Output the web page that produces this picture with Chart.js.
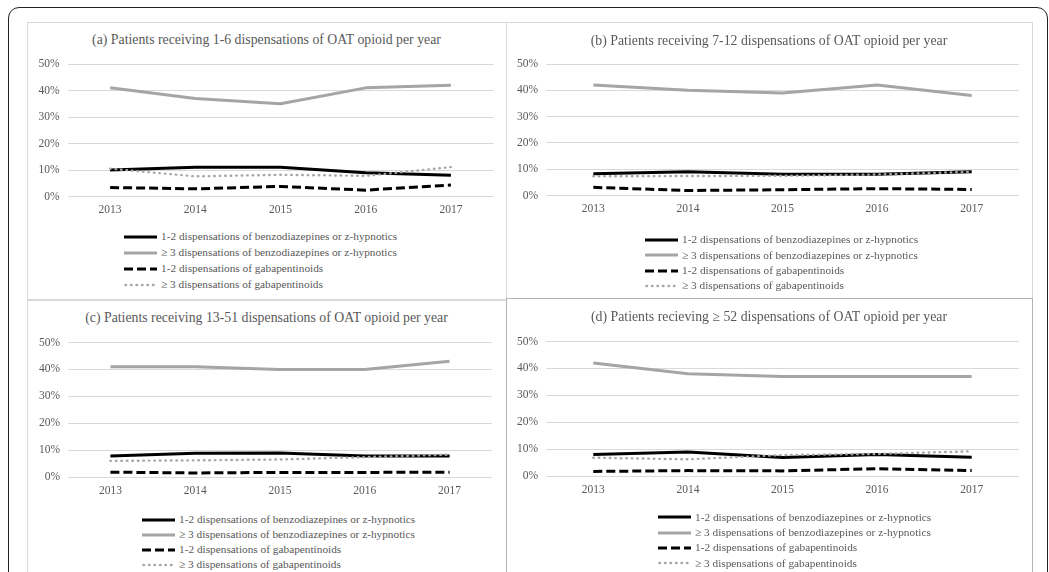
<!DOCTYPE html>
<html><head><meta charset="utf-8">
<script src="https://cdn.jsdelivr.net/npm/chart.js@4.4.1/dist/chart.umd.min.js"></script>
<style>
html,body{margin:0;padding:0;background:#fff;}
body{width:1049px;height:572px;overflow:hidden;position:relative;font-family:"Liberation Serif","Times New Roman",serif;}
.outer{position:absolute;left:8px;top:7px;width:1040px;height:640px;border:1.5px solid #222;border-radius:11px;box-sizing:border-box;}
.panel{position:absolute;box-sizing:border-box;border:1px solid #d9d9d9;}
.title{position:absolute;white-space:nowrap;color:#595959;font-size:13.8px;transform:translate(-50%,-50%);line-height:1;}
canvas{position:absolute;}
.legend{position:absolute;color:#595959;font-size:11.3px;}
.legend .row{display:flex;align-items:center;white-space:nowrap;line-height:1;}
.legend svg{margin-right:4px;flex:none;}
</style></head><body>
<div class="outer"></div>
<script>
// ---- data ----
const years = ['2013', '2014', '2015', '2016', '2017'];
const yTickLabels = ['0%', '10%', '20%', '30%', '40%', '50%'];
const seriesNames = [
  '1-2 dispensations of benzodiazepines or z-hypnotics',
  '\u2265 3 dispensations of benzodiazepines or z-hypnotics',
  '1-2 dispensations of gabapentinoids',
  '\u2265 3 dispensations of gabapentinoids'
];
const panelTitles = [
  '(a) Patients receiving 1-6 dispensations of OAT opioid per year',
  '(b) Patients receiving 7-12 dispensations of OAT opioid per year',
  '(c) Patients receiving 13-51 dispensations of OAT opioid per year',
  '(d) Patients recieving \u2265 52 dispensations of OAT opioid per year'
];
// (a) 1-6 dispensations
const aBenzo12 = [10, 11, 11, 9, 8];
const aBenzo3  = [41, 37, 35, 41, 42];
const aGaba12  = [3.4, 2.9, 3.8, 2.4, 4.3];
const aGaba3   = [10.5, 7.6, 8.2, 7.8, 11.1];
// (b) 7-12 dispensations
const bBenzo12 = [8.3, 9, 8.1, 8.1, 9];
const bBenzo3  = [42, 40, 39, 42, 38];
const bGaba12  = [3.1, 1.9, 2.2, 2.6, 2.3];
const bGaba3   = [7.3, 7.4, 7.5, 8, 9];
// (c) 13-51 dispensations
const cBenzo12 = [7.8, 8.8, 8.9, 7.8, 7.8];
const cBenzo3  = [41, 41, 40, 40, 43];
const cGaba12  = [1.8, 1.5, 1.7, 1.7, 1.8];
const cGaba3   = [6, 6.2, 6.5, 7.4, 8.3];
// (d) >= 52 dispensations
const dBenzo12 = [8, 8.9, 6.9, 8, 7];
const dBenzo3  = [42, 38, 37, 37, 37];
const dGaba12  = [1.7, 2, 1.9, 2.7, 2];
const dGaba3   = [6.8, 6.2, 7.8, 8.2, 9.2];

// ---- styles ----
const seriesStyles = [
  {color: '#000000', width: 3, dash: [], cap: 'butt', order: 3},
  {color: '#a5a5a5', width: 3, dash: [], cap: 'butt', order: 2},
  {color: '#000000', width: 3, dash: [9, 4], cap: 'butt', order: 1},
  {color: '#a5a5a5', width: 2.4, dash: [0.5, 5], cap: 'round', order: 0}
];

const panels = [
  {title: panelTitles[0], data: [aBenzo12, aBenzo3, aGaba12, aGaba3],
   box: [27, 22, 506, 300], area: [67.5, 64, 493.5, 196.5], titleY: 40,
   legend: {x: 124, y0: 236.7, step: 16.1}, border: '#d9d9d9'},
  {title: panelTitles[1], data: [bBenzo12, bBenzo3, bGaba12, bGaba3],
   box: [506, 22, 1032, 298], area: [546, 64, 1019, 195.5], titleY: 41,
   legend: {x: 645, y0: 240, step: 15.3}, border: '#d9d9d9'},
  {title: panelTitles[2], data: [cBenzo12, cBenzo3, cGaba12, cGaba3],
   box: [27, 299, 506, 640], area: [68, 342.5, 492, 477], titleY: 318,
   legend: {x: 142, y0: 520, step: 15}, border: '#d9d9d9'},
  {title: panelTitles[3], data: [dBenzo12, dBenzo3, dGaba12, dGaba3],
   box: [506, 298, 1032, 640], area: [546, 341.5, 1019, 476], titleY: 317,
   legend: {x: 658, y0: 517.5, step: 15.3}, border: '#b3b3b3'}
];

const tickFont = {family: '"Liberation Serif", "Times New Roman", serif', size: 11.5};
const tickColor = '#595959';

function makePanel(p) {
  const [bl, bt, br, bb] = p.box;
  const pd = document.createElement('div');
  pd.className = 'panel';
  Object.assign(pd.style, {left: bl + 'px', top: bt + 'px', width: (br - bl + 1) + 'px', height: (bb - bt + 1) + 'px', borderColor: p.border});
  document.body.appendChild(pd);

  const t = document.createElement('div');
  t.className = 'title';
  t.textContent = p.title;
  Object.assign(t.style, {left: ((bl + br) / 2) + 'px', top: p.titleY + 'px'});
  document.body.appendChild(t);

  const [al, at, ar, ab] = p.area;
  const cl = Math.floor(al) - 45, ct = Math.floor(at) - 20;
  const cw = Math.ceil(ar) + 14 - cl, ch = Math.ceil(ab) + 30 - ct;
  const cv = document.createElement('canvas');
  cv.width = cw; cv.height = ch;
  Object.assign(cv.style, {left: cl + 'px', top: ct + 'px', width: cw + 'px', height: ch + 'px'});
  document.body.appendChild(cv);

  const yW = al - cl;
  const padTop = at - ct;
  const padRight = cw - (ar - cl);
  const xH = ch - (ab - ct);

  new Chart(cv.getContext('2d'), {
    type: 'line',
    data: {
      labels: years,
      datasets: p.data.map((vals, i) => ({
        label: seriesNames[i],
        data: vals,
        borderColor: seriesStyles[i].color,
        backgroundColor: seriesStyles[i].color,
        borderWidth: seriesStyles[i].width,
        borderDash: seriesStyles[i].dash,
        borderCapStyle: seriesStyles[i].cap,
        borderJoinStyle: 'round',
        order: seriesStyles[i].order,
        pointRadius: 0,
        pointHoverRadius: 0,
        tension: 0,
        fill: false
      }))
    },
    options: {
      responsive: false,
      animation: false,
      devicePixelRatio: 1,
      layout: {padding: {left: 0, top: padTop, right: padRight, bottom: 0}},
      plugins: {legend: {display: false}, title: {display: false}, tooltip: {enabled: false}},
      scales: {
        x: {
          type: 'category', offset: true,
          grid: {display: false, drawTicks: false},
          border: {display: false},
          ticks: {color: tickColor, font: tickFont, padding: 7, maxRotation: 0, autoSkip: false},
          afterFit: s => { s.height = xH; }
        },
        y: {
          min: 0, max: 50,
          grid: {color: '#d9d9d9', lineWidth: 1, drawTicks: false},
          border: {display: false},
          ticks: {stepSize: 10, color: tickColor, font: tickFont, padding: 8,
                  callback: (v, idx) => yTickLabels[idx]},
          afterFit: s => { s.width = yW; }
        }
      }
    }
  });

  const lg = document.createElement('div');
  lg.className = 'legend';
  Object.assign(lg.style, {left: p.legend.x + 'px', top: (p.legend.y0 - p.legend.step / 2) + 'px'});
  seriesNames.forEach((name, i) => {
    const st = seriesStyles[i];
    const row = document.createElement('div');
    row.className = 'row';
    row.style.height = p.legend.step + 'px';
    const ns = 'http://www.w3.org/2000/svg';
    const svg = document.createElementNS(ns, 'svg');
    svg.setAttribute('width', '33'); svg.setAttribute('height', '8');
    const ln = document.createElementNS(ns, 'line');
    const x0 = st.cap === 'round' ? 1.5 : 0;
    ln.setAttribute('x1', x0); ln.setAttribute('x2', '33');
    ln.setAttribute('y1', '4'); ln.setAttribute('y2', '4');
    ln.setAttribute('stroke', st.color);
    ln.setAttribute('stroke-width', st.width);
    ln.setAttribute('stroke-linecap', st.cap);
    if (st.dash.length) ln.setAttribute('stroke-dasharray', st.dash.join(','));
    svg.appendChild(ln);
    const sp = document.createElement('span');
    sp.textContent = name;
    row.appendChild(svg); row.appendChild(sp);
    lg.appendChild(row);
  });
  document.body.appendChild(lg);
}

panels.forEach(makePanel);
</script>
</body></html>
